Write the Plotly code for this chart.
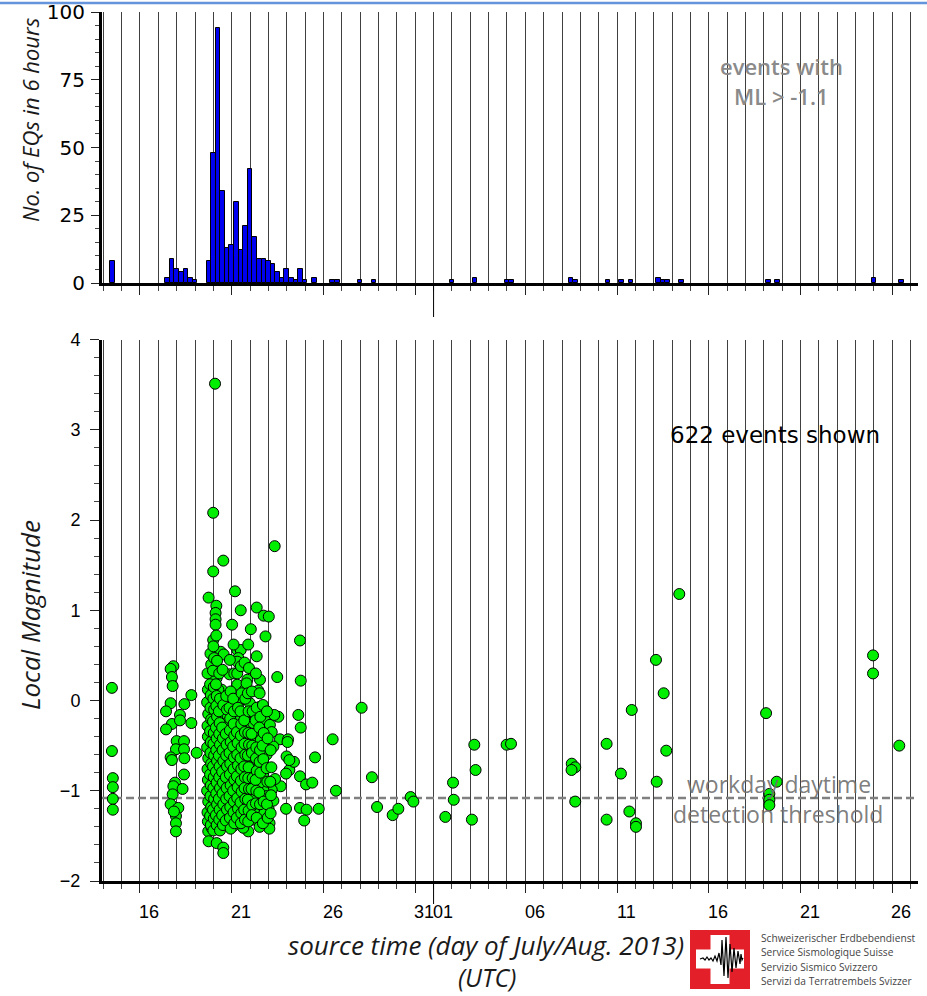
import plotly.graph_objects as go

# ---------------- data ----------------
# histogram: start of 6-hour bin (day of July, Aug 1 = 32) and count of events with ML > -1.1
hist_bin_start = [14.375, 17.375, 17.625, 17.875, 18.125, 18.375, 18.625, 18.875,
                  19.625, 19.875, 20.125, 20.375, 20.625, 20.875, 21.125, 21.375,
                  21.625, 21.875, 22.125, 22.375, 22.625, 22.875, 23.125, 23.375,
                  23.625, 23.875, 24.125, 24.375, 24.625, 24.875, 25.375, 26.375,
                  26.625, 27.875, 28.625, 32.875, 34.125, 35.875, 36.125, 39.375,
                  39.625, 41.375, 42.125, 42.625, 44.125, 44.375, 44.625, 45.375,
                  50.125, 50.625, 55.875, 57.375]
hist_counts = [8, 2, 9, 5, 4, 5, 2, 1,
               8, 48, 94, 34, 13, 14, 30, 12,
               21, 42, 17, 9, 9, 8, 7, 4,
               2, 5, 2, 1, 5, 1, 2, 1,
               1, 1, 1, 1, 2, 1, 1, 2,
               1, 1, 1, 1, 2, 1, 1, 1,
               1, 1, 2, 1]
HIST_BIN_WIDTH = 0.25

# events: day of July (Aug 1 = 32) and local magnitude
ev_jul14_day = [14.47, 14.47, 14.52, 14.52, 14.52, 14.52]
ev_jul14_ml = [0.14, -0.56, -0.86, -0.96, -1.09, -1.21]

ev_jul17_day = [17.82, 17.67, 17.74, 17.78, 18.80, 17.67, 17.42, 18.42, 18.18, 17.74,
                17.42, 18.18, 18.80, 18.00, 18.40, 17.96, 18.40, 17.67, 18.42, 19.09,
                17.74, 18.40, 17.91, 17.82, 18.32, 17.78, 17.67, 18.09, 17.96, 17.96,
                17.96, 17.85]
ev_jul17_ml = [0.38, 0.35, 0.26, 0.16, 0.06, -0.03, -0.12, -0.04, -0.16, -0.26,
               -0.32, -0.22, -0.25, -0.45, -0.45, -0.54, -0.54, -0.63, -0.64, -0.58,
               -0.66, -0.82, -0.91, -0.95, -0.98, -1.04, -1.15, -1.19, -1.28, -1.36,
               -1.45, -1.23]

ev_swarm_day = [20.09, 19.99, 20.54, 19.99, 19.74, 20.16, 21.18, 21.49, 22.36, 22.74,
                23.02, 23.34, 20.12, 20.12, 20.12, 21.02, 22.04, 22.84, 19.99, 21.30,
                21.49, 21.36, 21.30, 20.40, 20.56, 22.36, 20.09, 20.18, 19.99, 20.88,
                23.48, 24.76, 24.72, 21.30, 21.85, 22.54, 22.45, 20.45, 21.81, 20.27,
                21.72, 20.41, 19.85, 21.36, 21.99, 22.54, 19.90, 20.54, 20.73, 21.36,
                21.81, 21.99, 22.81, 23.08, 23.54, 23.32, 24.63, 24.76, 23.18, 23.63,
                23.27, 22.90, 23.99, 24.14, 23.96, 23.67, 23.36, 23.18, 23.01, 23.06,
                23.05, 22.76, 22.72, 22.72, 22.87, 22.17, 22.21, 22.14, 21.90, 22.17,
                22.17, 22.39, 22.58, 22.17, 21.81, 21.99, 22.54, 23.27, 24.07, 24.04,
                24.39, 24.14, 24.72, 25.05, 25.39, 23.96, 24.72, 25.08, 24.95, 25.74,
                25.54, 19.72, 19.74, 20.18, 20.54, 20.54, 19.90, 20.27, 21.27, 21.09,
                21.63]
ev_swarm_ml = [3.51, 2.08, 1.55, 1.43, 1.14, 1.05, 1.21, 1.00, 1.03, 0.94,
               0.93, 1.71, 0.97, 0.90, 0.84, 0.84, 0.79, 0.71, 0.67, 0.56,
               0.56, 0.47, 0.43, 0.54, 0.51, 0.49, 0.36, 0.25, 0.23, 0.29,
               0.26, 0.22, 0.665, 0.175, 0.23, 0.23, 0.11, 0.12, 0.10, 0.12,
               0.12, -0.03, -0.03, -0.03, -0.03, -0.07, -0.12, -0.18, -0.25, -0.23,
               -0.14, -0.25, -0.21, -0.27, -0.18, -0.16, -0.16, -0.30, -0.35, -0.43,
               -0.51, -0.60, -0.62, -0.77, -0.81, -0.95, -0.87, -0.99, -1.20, -1.36,
               -1.42, -1.25, -0.83, -0.99, -1.06, -1.10, -1.21, -1.32, -1.45, -0.69,
               -0.77, -0.40, -0.44, -0.25, 0.19, -0.62, -0.91, -1.11, -0.43, -0.46,
               -0.68, -0.66, -0.84, -0.93, -0.91, -1.20, -1.19, -1.21, -1.33, -1.20,
               -0.63, -1.45, -1.56, -1.58, -1.63, -1.69, -1.41, -1.34, -1.32, -1.39,
               -1.41]

# dense core of the swarm (20-23 July)
ev_core = [
    (19.68, 0.30), (19.70, 0.12), (19.66, -0.02), (19.72, -0.15), (19.68, -0.28), (19.70, -0.40),
    (19.66, -0.52), (19.72, -0.64), (19.68, -0.76), (19.70, -0.88), (19.66, -1.00), (19.72, -1.12),
    (19.68, -1.24), (19.70, -1.34),
    (19.84, 0.52), (19.88, 0.40), (19.82, 0.18), (19.86, 0.06), (19.84, -0.08), (19.88, -0.21),
    (19.82, -0.34), (19.86, -0.46), (19.84, -0.58), (19.88, -0.70), (19.82, -0.82), (19.86, -0.94),
    (19.84, -1.06), (19.88, -1.18), (19.82, -1.28), (19.86, -1.38),
    (20.00, 0.60), (20.04, 0.47), (19.98, 0.33), (20.02, 0.15), (20.00, 0.02), (20.04, -0.10),
    (19.98, -0.23), (20.02, -0.36), (20.00, -0.48), (20.04, -0.61), (19.98, -0.73), (20.02, -0.85),
    (20.00, -0.97), (20.04, -1.09), (19.98, -1.21), (20.02, -1.31), (20.00, -1.44),
    (20.16, 0.72), (20.20, 0.44), (20.14, 0.18), (20.18, 0.05), (20.16, -0.06), (20.20, -0.18),
    (20.14, -0.30), (20.18, -0.42), (20.16, -0.55), (20.20, -0.67), (20.14, -0.79), (20.18, -0.91),
    (20.16, -1.03), (20.20, -1.15), (20.14, -1.27), (20.18, -1.38),
    (20.32, 0.30), (20.36, 0.02), (20.30, -0.12), (20.34, -0.25), (20.32, -0.37), (20.36, -0.49),
    (20.30, -0.61), (20.34, -0.73), (20.32, -0.85), (20.36, -0.97), (20.30, -1.09), (20.34, -1.21),
    (20.32, -1.32), (20.36, -1.44),
    (20.50, 0.34), (20.54, -0.05), (20.48, -0.30), (20.52, -0.42), (20.50, -0.55), (20.54, -0.67),
    (20.48, -0.79), (20.52, -0.91), (20.50, -1.03), (20.54, -1.15), (20.48, -1.27), (20.52, -1.38),
    (20.70, 0.05), (20.74, -0.10), (20.68, -0.37), (20.72, -0.49), (20.70, -0.61), (20.74, -0.73),
    (20.68, -0.85), (20.72, -0.97), (20.70, -1.09), (20.74, -1.21), (20.68, -1.33),
    (20.90, 0.45), (20.94, 0.10), (20.88, -0.08), (20.92, -0.20), (20.90, -0.33), (20.94, -0.46),
    (20.88, -0.58), (20.92, -0.70), (20.90, -0.82), (20.94, -0.94), (20.88, -1.06), (20.92, -1.18),
    (20.90, -1.30), (20.94, -1.42),
    (21.10, 0.62), (21.14, 0.30), (21.08, 0.02), (21.12, -0.12), (21.10, -0.26), (21.14, -0.39),
    (21.08, -0.51), (21.12, -0.63), (21.10, -0.76), (21.14, -0.88), (21.08, -1.00), (21.12, -1.12),
    (21.10, -1.24), (21.14, -1.36),
    (21.30, 0.30), (21.34, -0.08), (21.28, -0.35), (21.32, -0.47), (21.30, -0.60), (21.34, -0.72),
    (21.28, -0.84), (21.32, -0.96), (21.30, -1.08), (21.34, -1.20), (21.28, -1.30),
    (21.50, 0.38), (21.54, 0.08), (21.48, -0.12), (21.52, -0.26), (21.50, -0.39), (21.54, -0.52),
    (21.48, -0.64), (21.52, -0.76), (21.50, -0.89), (21.54, -1.01), (21.48, -1.13), (21.52, -1.25),
    (21.50, -1.36),
    (21.70, 0.42), (21.74, 0.02), (21.68, -0.22), (21.72, -0.35), (21.70, -0.48), (21.74, -0.60),
    (21.68, -0.73), (21.72, -0.85), (21.70, -0.97), (21.74, -1.09), (21.68, -1.21), (21.72, -1.32),
    (21.90, 0.62), (21.94, 0.36), (21.88, 0.08), (21.92, -0.12), (21.90, -0.36), (21.94, -0.49),
    (21.88, -0.61), (21.92, -0.74), (21.90, -0.86), (21.94, -0.98), (21.88, -1.10), (21.92, -1.22),
    (21.90, -1.34),
    (22.10, 0.10), (22.14, -0.12), (22.08, -0.37), (22.12, -0.50), (22.10, -0.58), (22.14, -0.86),
    (22.08, -0.98), (22.12, -1.16), (22.10, -1.27),
    (22.32, 0.30), (22.36, -0.08), (22.30, -0.22), (22.34, -0.52), (22.32, -0.64), (22.36, -0.78),
    (22.30, -0.88), (22.34, -1.00), (22.32, -1.14), (22.36, -1.30),
    (22.52, 0.08), (22.56, -0.18), (22.50, -0.30), (22.54, -0.55), (22.52, -0.68), (22.56, -0.80),
    (22.50, -1.02), (22.54, -1.15), (22.52, -1.40),
    (22.70, -0.05), (22.74, -0.36), (22.68, -0.50), (22.72, -0.65), (22.74, -1.12), (22.70, -1.36),
    (22.92, -0.12), (22.96, -0.42), (22.90, -0.75), (22.94, -0.90), (22.92, -1.15), (22.96, -1.30),
    (23.12, -0.55), (23.16, -0.74), (23.10, -0.90), (23.14, -1.05), (23.12, -1.25),
]

ev_late_day = [26.50, 26.68, 28.08, 28.64, 28.92, 29.77, 30.08, 30.75, 30.90, 32.64,
               33.06, 33.10, 34.09, 34.22, 34.29, 35.98, 36.22, 39.53, 39.72, 39.52,
               39.72, 41.43, 41.43, 42.21, 42.67, 42.80, 43.03, 43.03, 44.12, 44.16,
               44.54, 44.68, 45.39, 50.12, 50.30, 50.30, 50.30, 50.70, 55.95, 55.95,
               57.38]
ev_late_ml = [-0.43, -1.00, -0.08, -0.85, -1.18, -1.27, -1.20, -1.07, -1.12, -1.29,
              -0.91, -1.10, -1.32, -0.49, -0.77, -0.49, -0.48, -0.70, -0.74, -0.77,
              -1.12, -0.48, -1.32, -0.81, -1.23, -0.105, -1.36, -1.40, 0.45, -0.90,
              0.08, -0.556, 1.18, -0.14, -1.035, -1.10, -1.16, -0.90, 0.50, 0.30,
              -0.50]

threshold_ml = -1.08
n_events_text = "622 events shown"

day_label_pos = [16.5, 21.5, 26.5, 31.5, 32.5, 37.5, 42.5, 47.5, 52.5, 57.5]
day_label_text = ["16", "21", "26", "31", "01", "06", "11", "16", "21", "26"]
major_tick_days = [16, 21, 26, 31, 37, 42, 47, 52, 57]
all_days = list(range(14, 59))
month_boundary_day = 32
x_range = [13.93, 58.40]

# ---------------- layout geometry ----------------
W, H = 927, 996
L, R, T, B = 102, 9, 12, 115
PW, PH = W - L - R, H - T - B


def px2x(px):
    return (px - L) / PW


def py2y(py):
    return (H - B - py) / PH


core_day = [p[0] for p in ev_core]
core_ml = [p[1] for p in ev_core]
all_day = ev_jul14_day + ev_jul17_day + ev_swarm_day + core_day + ev_late_day
all_ml = ev_jul14_ml + ev_jul17_ml + ev_swarm_ml + core_ml + ev_late_ml

GRID = "#404040"
TICKFONT = dict(family="Liberation Sans", size=18, color="black")

fig = go.Figure()
fig.add_trace(go.Bar(
    x=[s + HIST_BIN_WIDTH / 2 for s in hist_bin_start], y=hist_counts,
    width=HIST_BIN_WIDTH, xaxis="x", yaxis="y",
    marker=dict(color="#0000f0", line=dict(color="#000000", width=1)),
    showlegend=False, hoverinfo="skip"))
fig.add_trace(go.Scatter(
    x=all_day, y=all_ml, mode="markers", xaxis="x2", yaxis="y2",
    marker=dict(size=11, color="#00ee00", line=dict(color="black", width=1)),
    showlegend=False, hoverinfo="skip"))

xcommon = dict(
    range=x_range, showline=True, linewidth=3, linecolor="black", automargin=False,
    ticks="outside", tickmode="array", tickvals=major_tick_days, ticklen=9,
    tickwidth=1, tickcolor="#222", showticklabels=False,
    showgrid=True, gridcolor=GRID, gridwidth=1, zeroline=False,
    minor=dict(tickmode="array", tickvals=all_days, ticks="outside", ticklen=5,
               tickwidth=1, tickcolor="#444", showgrid=True, gridcolor=GRID, gridwidth=1),
)

top_dom = [py2y(283), 1.0]
bot_dom = [0.0, py2y(339.5)]

fig.update_layout(
    width=W, height=H,
    margin=dict(l=L, r=R, t=T, b=B, pad=0, autoexpand=False),
    paper_bgcolor="white", plot_bgcolor="white",
    bargap=0, showlegend=False,
    xaxis=dict(xcommon, anchor="y", domain=[0, 1]),
    yaxis=dict(range=[0, 100], domain=top_dom, anchor="x", showline=True, linewidth=3,
               linecolor="black", ticks="outside", tickvals=[0, 25, 50, 75, 100],
               ticklen=8, tickwidth=1, tickcolor="#222", showgrid=False, zeroline=False,
               automargin=False,
               tickfont=dict(family="DejaVu Sans", size=20, color="black"),
               ticklabelstandoff=2,
               minor=dict(dtick=5, tick0=0, ticks="outside", ticklen=4, tickcolor="#444")),
    xaxis2=dict(xcommon, anchor="y2", domain=[0, 1]),
    yaxis2=dict(range=[-2, 4], domain=bot_dom, anchor="x2", showline=True, linewidth=3,
                linecolor="black", ticks="outside", tickvals=[-2, -1, 0, 1, 2, 3, 4],
                ticklen=9, tickwidth=1, tickcolor="#222", showgrid=False, zeroline=False,
                automargin=False,
                tickfont=TICKFONT, ticklabelstandoff=6,
                minor=dict(dtick=0.2, tick0=0, ticks="outside", ticklen=5, tickcolor="#444")),
)

shapes = []
# threshold line (between gridlines and markers)
shapes.append(dict(type="line", xref="x2", yref="y2", x0=x_range[0], x1=x_range[1],
                   y0=threshold_ml, y1=threshold_ml, layer="between",
                   line=dict(color="#808080", width=2.5, dash="8px,4px")))
# month boundary long ticks
shapes.append(dict(type="line", xref="x", yref="paper", x0=month_boundary_day, x1=month_boundary_day,
                   y0=py2y(284), y1=py2y(317), line=dict(color="black", width=1)))
shapes.append(dict(type="line", xref="x2", yref="paper", x0=month_boundary_day, x1=month_boundary_day,
                   y0=py2y(882), y1=py2y(904), line=dict(color="black", width=1)))
# page top blue rule
shapes.append(dict(type="line", xref="paper", yref="paper", x0=px2x(0), x1=px2x(W),
                   y0=py2y(3), y1=py2y(3), line=dict(color="#6495dc", width=2.5)))
# logo
shapes.append(dict(type="rect", xref="paper", yref="paper", x0=px2x(690), x1=px2x(750),
                   y0=py2y(989), y1=py2y(930), fillcolor="#e3202a", line=dict(width=0)))
shapes.append(dict(type="rect", xref="paper", yref="paper", x0=px2x(696), x1=px2x(744),
                   y0=py2y(968.5), y1=py2y(949.5), fillcolor="white", line=dict(width=0)))
shapes.append(dict(type="rect", xref="paper", yref="paper", x0=px2x(710.5), x1=px2x(729.5),
                   y0=py2y(984), y1=py2y(935), fillcolor="white", line=dict(width=0)))
seis = [(700, 959), (703, 958), (705, 960), (707, 957), (709, 960), (711, 958), (713, 961),
        (715, 956), (717, 961), (719, 953), (721, 965), (722, 940), (724, 976), (726, 937),
        (728, 978), (730, 944), (732, 972), (734, 948), (736, 968), (738, 951), (740, 964),
        (741, 954), (742, 960), (743, 958)]
path = "M " + " L ".join(f"{px2x(a):.5f},{py2y(b):.5f}" for a, b in seis)
shapes.append(dict(type="path", xref="paper", yref="paper", path=path,
                   line=dict(color="black", width=1.2)))
fig.update_layout(shapes=shapes)

ann = []
for d, t in zip(day_label_pos, day_label_text):
    ann.append(dict(x=d, xref="x2", y=py2y(912), yref="paper", text=t, showarrow=False,
                    font=TICKFONT, xanchor="center", yanchor="middle"))
TITLEFONT = dict(family="Open Sans", size=22, color="#1a1a1a", style="italic")
ann.append(dict(x=px2x(30), y=py2y(120), xref="paper", yref="paper", text="No. of EQs in 6 hours",
                textangle=-90, showarrow=False, font=TITLEFONT, xanchor="center", yanchor="middle"))
ann.append(dict(x=px2x(30), y=py2y(615), xref="paper", yref="paper", text="Local Magnitude",
                textangle=-90, showarrow=False, font=dict(TITLEFONT, size=26),
                xanchor="center", yanchor="middle"))
XTF = dict(family="Open Sans", size=25, color="#1a1a1a", style="italic")
ann.append(dict(x=px2x(486), y=py2y(945), xref="paper", yref="paper",
                text="source time (day of July/Aug. 2013)", showarrow=False,
                font=dict(XTF, size=26), xanchor="center", yanchor="middle"))
ann.append(dict(x=px2x(487), y=py2y(977), xref="paper", yref="paper", text="(UTC)",
                showarrow=False, font=XTF, xanchor="center", yanchor="middle"))
ann.append(dict(x=px2x(882), y=py2y(435), xref="paper", yref="paper", text=n_events_text,
                showarrow=False, font=dict(family="DejaVu Sans", size=23, color="black"),
                xanchor="right", yanchor="middle"))
GRAYF = dict(family="Open Sans", size=22, color="#8a8a8a", weight=600)
ann.append(dict(x=px2x(781), y=py2y(66), xref="paper", yref="paper", text="events with",
                showarrow=False, font=GRAYF, xanchor="center", yanchor="middle"))
ann.append(dict(x=px2x(781), y=py2y(96), xref="paper", yref="paper", text="ML > -1.1",
                showarrow=False, font=GRAYF, xanchor="center", yanchor="middle"))
GRAYF2 = dict(family="Open Sans", size=23, color="rgba(110,110,110,0.9)")
ann.append(dict(x=px2x(779), y=py2y(784), xref="paper", yref="paper", text="workday daytime",
                showarrow=False, font=GRAYF2, xanchor="center", yanchor="middle"))
ann.append(dict(x=px2x(778), y=py2y(814), xref="paper", yref="paper", text="detection threshold",
                showarrow=False, font=GRAYF2, xanchor="center", yanchor="middle"))
logo_lines = ["Schweizerischer Erdbebendienst", "Service Sismologique Suisse",
              "Servizio Sismico Svizzero", "Servizi da Terratrembels Svizzer"]
for i, t in enumerate(logo_lines):
    ann.append(dict(x=px2x(759), y=py2y(938 + i * 14.4), xref="paper", yref="paper", text=t,
                    showarrow=False, font=dict(family="Open Sans", size=10.2, color="#444"),
                    xanchor="left", yanchor="middle"))
fig.update_layout(annotations=ann)

fig.write_html("out.html")
